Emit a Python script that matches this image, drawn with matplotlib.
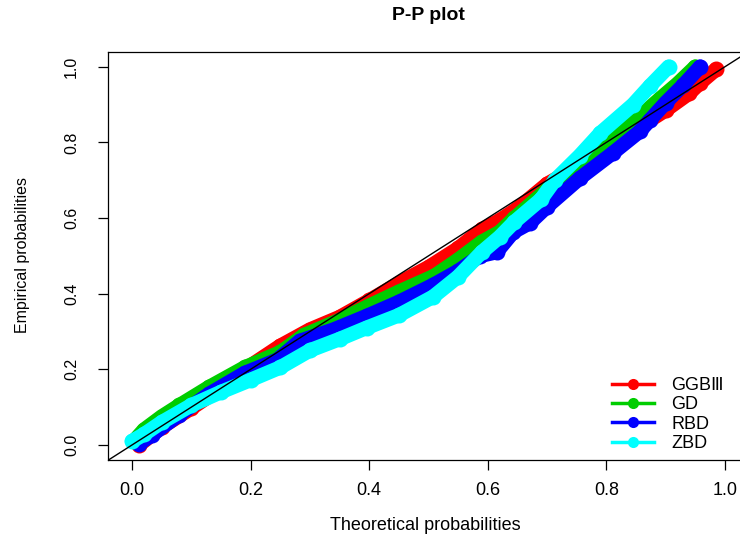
import matplotlib
matplotlib.use("Agg")
import matplotlib.pyplot as plt
from matplotlib.lines import Line2D

plt.rcParams['font.family'] = ['Liberation Sans', 'DejaVu Sans']

# ---- data ----
series_names = ["GGBⅢ", "GD", "RBD", "ZBD"]
series_colors = ["#FF0000", "#00CD00", "#0000FF", "#00FFFF"]

ggb_x = [0.012, 0.05, 0.10, 0.15, 0.20, 0.25, 0.30, 0.35, 0.40, 0.45, 0.50, 0.55,
         0.59, 0.62, 0.65, 0.70, 0.75, 0.80, 0.85, 0.90, 0.94, 0.958, 0.985]
ggb_y = [0.000, 0.047, 0.097, 0.150, 0.210, 0.262, 0.305, 0.338, 0.382, 0.428, 0.470, 0.520,
         0.570, 0.594, 0.625, 0.690, 0.735, 0.785, 0.835, 0.885, 0.930, 0.957, 0.993]

gd_x = [0.003, 0.02, 0.05, 0.08, 0.13, 0.19, 0.25, 0.29, 0.35, 0.40, 0.45, 0.51,
        0.55, 0.59, 0.62, 0.645, 0.70, 0.75, 0.80, 0.85, 0.89, 0.92, 0.95]
gd_y = [0.010, 0.040, 0.075, 0.105, 0.153, 0.205, 0.245, 0.290, 0.330, 0.368, 0.405, 0.447,
        0.490, 0.537, 0.563, 0.600, 0.675, 0.745, 0.805, 0.860, 0.915, 0.955, 1.000]

rbd_x = [0.012, 0.034, 0.08, 0.13, 0.19, 0.245, 0.283, 0.34, 0.396, 0.45, 0.508, 0.55,
         0.587, 0.615, 0.643, 0.671, 0.70, 0.755, 0.811, 0.857, 0.874, 0.90, 0.93, 0.958]
rbd_y = [0.003, 0.027, 0.080, 0.135, 0.190, 0.225, 0.275, 0.305, 0.341, 0.378, 0.423, 0.460,
         0.500, 0.510, 0.563, 0.587, 0.630, 0.705, 0.772, 0.830, 0.860, 0.905, 0.952, 1.000]

zbd_x = [0.0, 0.02, 0.05, 0.10, 0.15, 0.20, 0.25, 0.30, 0.35, 0.396, 0.45, 0.508,
         0.55, 0.59, 0.62, 0.645, 0.69, 0.713, 0.755, 0.79, 0.845, 0.874, 0.905]
zbd_y = [0.010, 0.028, 0.060, 0.105, 0.140, 0.172, 0.205, 0.250, 0.280, 0.310, 0.343, 0.392,
         0.445, 0.510, 0.550, 0.590, 0.650, 0.700, 0.765, 0.825, 0.900, 0.950, 1.000]

ticks = [0.0, 0.2, 0.4, 0.6, 0.8, 1.0]
tick_labels = ["0.0", "0.2", "0.4", "0.6", "0.8", "1.0"]

# ---- figure ----
W, H = 740, 539
fig = plt.figure(figsize=(W / 100, H / 100), dpi=100)
L, R, T, B = 108.3, 748.7, 51.6, 460.1
ax = fig.add_axes([L / W, (H - B) / H, (R - L) / W, (B - T) / H])
ax.set_xlim(-0.04, 1.04)
ax.set_ylim(-0.04, 1.04)

xs = [ggb_x, gd_x, rbd_x, zbd_x]
ys = [ggb_y, gd_y, rbd_y, zbd_y]
for i, (x, y, c) in enumerate(zip(xs, ys, series_colors)):
    ax.plot(x, y, color=c, lw=10.5, solid_joinstyle='round', solid_capstyle='round',
            marker='o', ms=11.5, mec=c, mew=0, zorder=2 + i)

ax.axline((0, 0), (1, 1), color='black', lw=1.0, zorder=10)

for s in ax.spines.values():
    s.set_color('black')
    s.set_linewidth(0.9)

ax.set_xticks(ticks)
ax.set_xticklabels(tick_labels, fontsize=13)
ax.set_yticks(ticks)
ax.set_yticklabels(tick_labels, fontsize=11.5, rotation=90, va='center')
ax.tick_params(axis='x', direction='out', length=7, width=0.9, pad=9)
ax.tick_params(axis='y', direction='out', length=7, width=0.9, pad=14)

fig.text(428 / W, 1 - 15 / H, "P-P plot", ha='center', va='center',
         fontsize=14, fontweight='bold')
fig.text(425 / W, 1 - 526 / H, "Theoretical probabilities", ha='center', va='center',
         fontsize=13)
fig.text(22.5 / W, 1 - 255 / H, "Empirical probabilities", ha='center', va='center',
         rotation=90, fontsize=11.5)

handles = [Line2D([0], [0], color=c, lw=2.5, marker='o', ms=8, mew=0)
           for c in series_colors]
fig.legend(handles, series_names, loc='upper left',
           bbox_to_anchor=(612 / W, 1 - 377 / H), bbox_transform=fig.transFigure,
           frameon=False, fontsize=13, handlelength=2.3, handletextpad=1.0,
           labelspacing=0.13, borderpad=0, borderaxespad=0)

fig.savefig("out.png", dpi=100)
